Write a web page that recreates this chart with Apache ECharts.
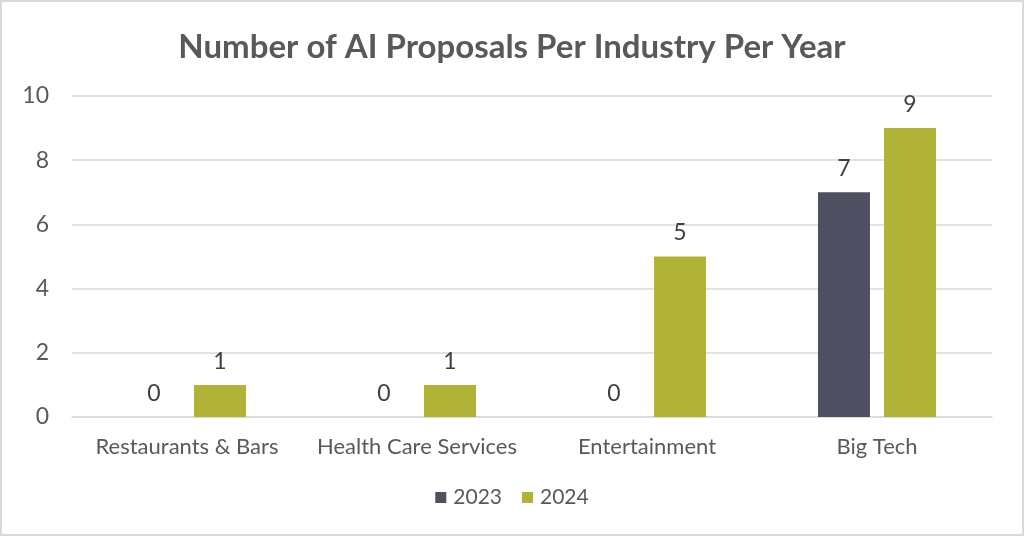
<!DOCTYPE html>
<html><head><meta charset="utf-8">
<script src="https://cdn.jsdelivr.net/npm/echarts@6/dist/echarts.min.js"></script>
<style>html,body{margin:0;padding:0;background:#fff}#c{width:1024px;height:536px;box-sizing:border-box;border:2px solid #d9d9d9}</style>
</head><body><div id="c"></div>
<script>
const categories = ['Restaurants & Bars', 'Health Care Services', 'Entertainment', 'Big Tech'];
const values2023 = [0, 0, 0, 7];
const values2024 = [1, 1, 5, 9];
const yTicks = [0, 2, 4, 6, 8, 10];

const chart = echarts.init(document.getElementById('c'));
const font = 'Lato, "Noto Sans", sans-serif';
const lbl = {show: true, position: 'top', color: '#404040', fontSize: 23, fontFamily: font, distance: 12};
chart.setOption({
  animation: false,
  textStyle: {fontFamily: font},
  title: {text: 'Number of AI Proposals Per Industry Per Year', left: 'center', top: 24,
    textStyle: {fontSize: 33, fontWeight: 'bold', color: '#595959', fontFamily: font}},
  legend: {bottom: 21, itemWidth: 11, itemHeight: 11, itemGap: 20, icon: 'rect',
    textStyle: {fontSize: 21, color: '#595959', fontFamily: font, padding: [0, 0, 0, 2]}},
  grid: {left: 70, right: 30, top: 94, bottom: 117},
  xAxis: {type: 'category', data: categories,
    axisLine: {lineStyle: {color: '#d9d9d9', width: 1.5}}, axisTick: {show: false},
    axisLabel: {interval: 0, fontSize: 22, color: '#595959', margin: 19, fontFamily: font}},
  yAxis: {type: 'value', min: yTicks[0], max: yTicks[yTicks.length - 1], interval: 2,
    axisLine: {show: false}, axisTick: {show: false},
    splitLine: {lineStyle: {color: '#d9d9d9', width: 1.5}},
    axisLabel: {fontSize: 23, color: '#595959', margin: 23, fontFamily: font}},
  series: [
    {name: '2023', type: 'bar', data: values2023, barWidth: 52, barGap: '27%',
      itemStyle: {color: '#4f5061'}, label: lbl},
    {name: '2024', type: 'bar', data: values2024, barWidth: 52,
      itemStyle: {color: '#b0b335'}, label: lbl}
  ]
});
</script></body></html>
